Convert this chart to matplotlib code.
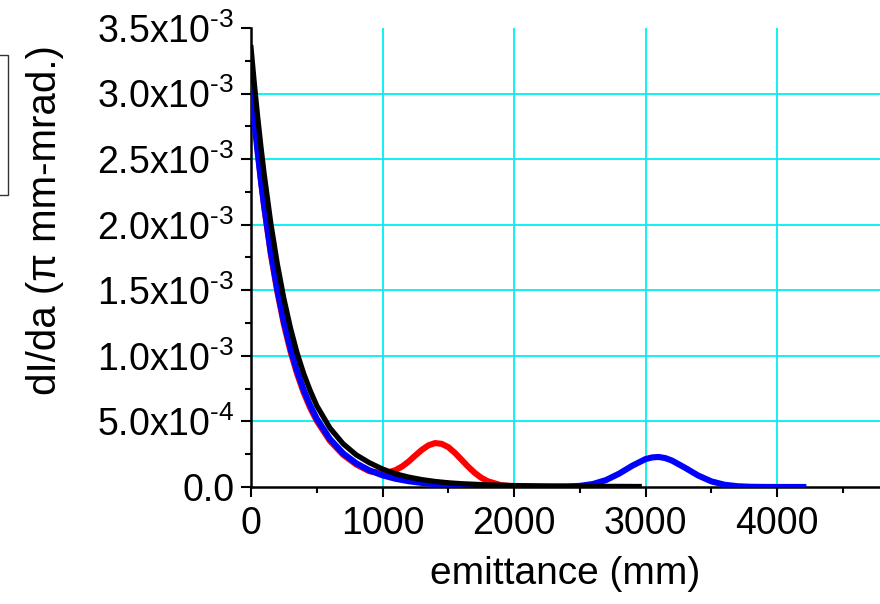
import matplotlib.pyplot as plt
from matplotlib.patches import Rectangle
from matplotlib.ticker import MultipleLocator

plt.rcParams['font.family'] = ['Liberation Sans', 'DejaVu Sans']
plt.rcParams['mathtext.fontset'] = 'custom'
plt.rcParams['mathtext.rm'] = 'Liberation Sans'

# black curve (values in units of 1e-3)
x_black = [0, 25, 50, 75, 100, 150, 200, 250, 300, 350, 400, 450, 500, 600, 700,
           800, 900, 1000, 1100, 1200, 1300, 1400, 1500, 1600, 1800, 2000, 2200,
           2500, 2950]
y_black = [3.35, 3.078, 2.828, 2.598, 2.387, 2.015, 1.701, 1.436, 1.212, 1.023,
           0.866, 0.735, 0.62, 0.45, 0.33, 0.245, 0.185, 0.137, 0.10, 0.075,
           0.056, 0.042, 0.032, 0.025, 0.016, 0.011, 0.008, 0.005, 0.003]

# red curve: decay plus bump near 1420
x_red = [0, 25, 50, 75, 100, 150, 200, 250, 300, 350, 400, 450, 500, 600, 700,
         800, 900, 1000, 1050, 1100, 1150, 1200, 1250, 1300, 1350, 1400, 1450,
         1500, 1550, 1600, 1650, 1700, 1750, 1800, 1900, 2000, 2100, 2200, 2500,
         2950]
y_red = [3.12, 2.84, 2.58, 2.35, 2.14, 1.78, 1.49, 1.24, 1.035, 0.865, 0.722,
         0.603, 0.505, 0.352, 0.246, 0.172, 0.120, 0.107, 0.113, 0.129, 0.157,
         0.195, 0.241, 0.284, 0.318, 0.335, 0.329, 0.304, 0.261, 0.209, 0.156,
         0.109, 0.071, 0.044, 0.014, 0.0044, 0.0015, 0.001, 0.0007, 0.0005]

# blue curve: decay plus bump near 3090
x_blue = [0, 25, 50, 75, 100, 150, 200, 250, 300, 350, 400, 450, 500, 600, 700,
          800, 900, 1000, 1100, 1200, 1300, 1400, 1500, 1600, 1800, 2000, 2200,
          2300, 2400, 2500, 2600, 2700, 2800, 2900, 3000, 3050, 3100, 3150, 3200,
          3300, 3400, 3500, 3600, 3700, 3800, 3900, 4000, 4200]
y_blue = [3.05, 2.792, 2.556, 2.34, 2.143, 1.795, 1.505, 1.261, 1.057, 0.885,
          0.742, 0.622, 0.521, 0.366, 0.257, 0.181, 0.127, 0.089, 0.0625, 0.044,
          0.031, 0.0217, 0.015, 0.0107, 0.005, 0.0026, 0.0015, 0.0015, 0.0030,
          0.0085, 0.0228, 0.0531, 0.1023, 0.1627, 0.2128, 0.2255, 0.2290, 0.2205,
          0.2021, 0.1469, 0.0878, 0.0431, 0.0174, 0.0058, 0.0016, 0.0005, 0.0002,
          0.0001]

y_ticks = [0.0, 0.5e-3, 1.0e-3, 1.5e-3, 2.0e-3, 2.5e-3, 3.0e-3, 3.5e-3]
y_labels = ['0.0', r'5.0x10$^{\text{-4}}$', r'1.0x10$^{\text{-3}}$',
            r'1.5x10$^{\text{-3}}$', r'2.0x10$^{\text{-3}}$',
            r'2.5x10$^{\text{-3}}$', r'3.0x10$^{\text{-3}}$',
            r'3.5x10$^{\text{-3}}$']
x_ticks = [0, 1000, 2000, 3000, 4000]

fig = plt.figure(figsize=(8.8, 6.04), dpi=100)
ax = fig.add_axes([251 / 880, 1 - 487 / 604, 629 / 880, 459 / 604])

for xv in x_ticks[1:]:
    ax.axvline(xv, color='#00f0f0', lw=1.3, zorder=0)
for yv in y_ticks[1:-1]:
    ax.axhline(yv, color='#00f0f0', lw=1.3, zorder=0)

ax.plot(x_red, [v * 1e-3 for v in y_red], color='#ff0000', lw=4.4, zorder=2)
ax.plot(x_blue, [v * 1e-3 for v in y_blue], color='#0000ff', lw=4.4, zorder=3)
ax.plot(x_black, [v * 1e-3 for v in y_black], color='black', lw=3.8, zorder=4)

ax.set_xlim(0, 4783)
ax.set_ylim(0, 3.5e-3)
ax.set_xticks(x_ticks)
ax.set_xticklabels([str(v) for v in x_ticks])
ax.set_yticks(y_ticks)
ax.set_yticklabels(y_labels)
ax.xaxis.set_minor_locator(MultipleLocator(500))
ax.yaxis.set_minor_locator(MultipleLocator(0.25e-3))

for side in ['top', 'right']:
    ax.spines[side].set_visible(False)
for side in ['left', 'bottom']:
    ax.spines[side].set_linewidth(1.8)

ax.tick_params(which='major', direction='out', length=7, width=1.5,
               labelsize=27, pad=5)
ax.tick_params(which='minor', direction='out', length=4, width=1.5)
ax.tick_params(axis='x', which='major', pad=7)

ax.set_xlabel('emittance (mm)', fontsize=28, labelpad=10)
fig.text(45 / 880, 1 - 220 / 604, 'dI/da (π mm-mrad.)', rotation=90,
         fontsize=29, ha='center', va='center')

# legend box cut by the left edge
fig.patches.append(Rectangle((-0.05, 1 - 195 / 604), 0.05 + 8 / 880, 140 / 604,
                             transform=fig.transFigure, fill=False,
                             edgecolor='#333333', lw=1.0))

fig.savefig('out.png', dpi=100)
